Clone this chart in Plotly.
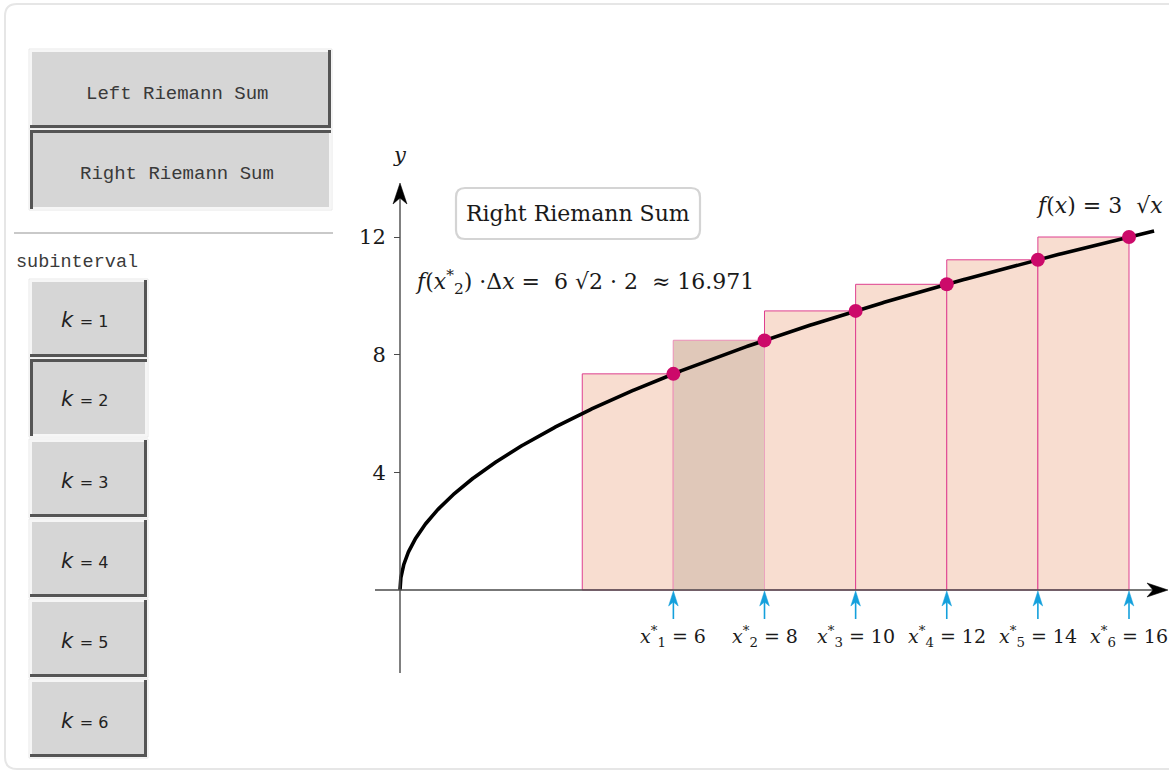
import numpy as np
import plotly.graph_objects as go

# ---------------- data ----------------
k_values = [1, 2, 3, 4, 5, 6]
x_left = [4, 6, 8, 10, 12, 14]
x_star = [6, 8, 10, 12, 14, 16]          # right endpoints (sample points)
delta_x = 2
f_star = [7.348, 8.485, 9.487, 10.392, 11.225, 12.0]   # f(x_k*) = 3*sqrt(x_k*)
selected_k = 2
y_tick_vals = [4, 8, 12]
y_tick_text = ["4", "8", "12"]
curve_x_end = 16.55
button_labels = ["Left Riemann Sum", "Right Riemann Sum"]
panel_label = "subinterval"
formula_text = "<i>f</i>(<i>x</i><sup>*</sup><sub>2</sub>) ·Δ<i>x</i> =  6 √2 · 2  ≈ 16.971"
func_text = "<i>f</i>(<i>x</i>) = 3  √<i>x</i>"
title_text = "Right Riemann Sum"

# curve of f(x) = 3 sqrt(x) (the function shown in the chart), denser near 0
curve_x = curve_x_end * np.linspace(0, 1, 600) ** 2
curve_y = 3 * np.sqrt(curve_x)

# ---------------- geometry ----------------
W, H = 1169, 772
X0_PX, X_SCALE = 400.0, 45.5625
Y0_PX, Y_SCALE = 590.0, 29.4167

def dxp(p):  # pixels -> data x units
    return p / X_SCALE

def dyp(p):  # pixels -> data y units
    return p / Y_SCALE

def X(px_):  # absolute pixel -> data x
    return (px_ - X0_PX) / X_SCALE

def Y(py_):  # absolute pixel -> data y
    return (Y0_PX - py_) / Y_SCALE

def PX(x):  # pixel -> paper
    return x / W

def PY(y):
    return 1 - y / H

SERIF = "DejaVu Serif"
MONO = "Liberation Mono"
SANS = "DejaVu Sans"
TXT = "#1a1a1a"

fig = go.Figure()

# rectangles (bars)
mids = [xl + delta_x / 2 for xl in x_left]
fig.add_trace(go.Bar(
    x=mids, y=f_star, width=[delta_x] * len(mids), base=0,
    marker=dict(color="#f8ddd0", line=dict(color="#de3f8f", width=1)),
    hoverinfo="skip", showlegend=False))
si = k_values.index(selected_k)
fig.add_trace(go.Bar(
    x=[mids[si]], y=[f_star[si]], width=[delta_x], base=0,
    marker=dict(color="#e0c8b9", line=dict(color="#eba3bf", width=1)),
    hoverinfo="skip", showlegend=False))

# curve
fig.add_trace(go.Scatter(x=curve_x, y=curve_y, mode="lines",
                         line=dict(color="black", width=3.6),
                         hoverinfo="skip", showlegend=False))
# sample points
fig.add_trace(go.Scatter(x=x_star, y=f_star, mode="markers",
                         marker=dict(color="#cc0a6a", size=14),
                         hoverinfo="skip", showlegend=False))

shapes = []
annotations = []

# ---- axes (lines + arrowheads) ----
AX_COL = "#4a4a4a"
x_tip = X(1168)
y_tip = Y(183)
shapes.append(dict(type="line", xref="x", yref="y", x0=X(375), y0=0, x1=x_tip - dxp(14), y1=0,
                   line=dict(color=AX_COL, width=1.4), layer="above"))
shapes.append(dict(type="line", xref="x", yref="y", x0=0, y0=Y(673), x1=0, y1=y_tip - dyp(14),
                   line=dict(color=AX_COL, width=1.4), layer="above"))
shapes.append(dict(type="path", xref="x", yref="y", layer="above",
                   path=f"M{x_tip},0 L{x_tip - dxp(21)},{dyp(7)} L{x_tip - dxp(15)},0 L{x_tip - dxp(21)},{-dyp(7)} Z",
                   fillcolor="black", line=dict(color="black", width=0.5)))
shapes.append(dict(type="path", xref="x", yref="y", layer="above",
                   path=f"M0,{y_tip} L{dxp(7)},{y_tip - dyp(21)} L0,{y_tip - dyp(15)} L{-dxp(7)},{y_tip - dyp(21)} Z",
                   fillcolor="black", line=dict(color="black", width=0.5)))

# ---- blue arrows under sample points ----
BLUE = "#14a0dc"
for xs in x_star:
    shapes.append(dict(type="line", xref="x", yref="y", x0=xs, y0=-dyp(11), x1=xs, y1=-dyp(29),
                       line=dict(color=BLUE, width=1.6), layer="above"))
    shapes.append(dict(type="path", xref="x", yref="y", layer="above",
                       path=f"M{xs},{-dyp(1)} L{xs + dxp(4.8)},{-dyp(16)} L{xs},{-dyp(12)} L{xs - dxp(4.8)},{-dyp(16)} Z",
                       fillcolor=BLUE, line=dict(color=BLUE, width=0.5)))

# ---- x* labels ----
for k, xs in zip(k_values, x_star):
    annotations.append(dict(x=xs, y=Y(636), xref="x", yref="y", showarrow=False,
                            text=f"<i>x</i><sup>*</sup><sub>{k}</sub> = {xs}",
                            font=dict(family=SERIF, size=19, color=TXT),
                            xanchor="center", yanchor="middle"))

# ---- y label ----
annotations.append(dict(x=0, y=Y(155), xref="x", yref="y", showarrow=False, text="<i>y</i>",
                        font=dict(family=SERIF, size=21, color=TXT)))

# ---- title box ----
bx0, by0, bx1, by1, r = 456, 188, 700, 239, 9
path = (f"M{X(bx0 + r)},{Y(by0)} L{X(bx1 - r)},{Y(by0)} Q{X(bx1)},{Y(by0)} {X(bx1)},{Y(by0 + r)} "
        f"L{X(bx1)},{Y(by1 - r)} Q{X(bx1)},{Y(by1)} {X(bx1 - r)},{Y(by1)} "
        f"L{X(bx0 + r)},{Y(by1)} Q{X(bx0)},{Y(by1)} {X(bx0)},{Y(by1 - r)} "
        f"L{X(bx0)},{Y(by0 + r)} Q{X(bx0)},{Y(by0)} {X(bx0 + r)},{Y(by0)} Z")
shapes.append(dict(type="path", xref="x", yref="y", path=path, fillcolor="white",
                   line=dict(color="#d4d4d4", width=2.2), layer="above"))
annotations.append(dict(x=X((bx0 + bx1) / 2), y=Y(213), xref="x", yref="y", showarrow=False,
                        text=title_text, font=dict(family=SERIF, size=22, color=TXT)))

# ---- formula ----
annotations.append(dict(x=X(413), y=Y(282), xref="x", yref="y", showarrow=False, xanchor="left",
                        text=formula_text, font=dict(family=SERIF, size=22, color=TXT)))
annotations.append(dict(x=X(1165), y=Y(205), xref="x", yref="y", showarrow=False, xanchor="right",
                        text=func_text, font=dict(family=SERIF, size=22, color=TXT)))

# ---------------- left control panel (paper/pixel coords) ----------------
def rounded_frame(x0, y0, x1, y1, rr):
    return (f"M{PX(x0 + rr)},{PY(y0)} L{PX(x1 - rr)},{PY(y0)} Q{PX(x1)},{PY(y0)} {PX(x1)},{PY(y0 + rr)} "
            f"L{PX(x1)},{PY(y1 - rr)} Q{PX(x1)},{PY(y1)} {PX(x1 - rr)},{PY(y1)} "
            f"L{PX(x0 + rr)},{PY(y1)} Q{PX(x0)},{PY(y1)} {PX(x0)},{PY(y1 - rr)} "
            f"L{PX(x0)},{PY(y0 + rr)} Q{PX(x0)},{PY(y0)} {PX(x0 + rr)},{PY(y0)} Z")

shapes.append(dict(type="path", xref="paper", yref="paper", path=rounded_frame(5, 4, 1185, 769, 12),
                   line=dict(color="#e6e6e6", width=2), layer="below"))

def pline(x0, y0, x1, y1, color, width):
    return dict(type="line", xref="paper", yref="paper", x0=PX(x0), y0=PY(y0), x1=PX(x1), y1=PY(y1),
                line=dict(color=color, width=width), layer="above")

def button(x0, y0, x1, y1, pressed):
    out = [dict(type="rect", xref="paper", yref="paper", x0=PX(x0 - 1), y0=PY(y0 - 1), x1=PX(x1 + 1), y1=PY(y1 + 1),
                fillcolor="white", line=dict(color="#e8e8e8", width=1), layer="above"),
           dict(type="rect", xref="paper", yref="paper", x0=PX(x0), y0=PY(y0), x1=PX(x1), y1=PY(y1),
                fillcolor="#d6d6d6", line=dict(width=0), layer="above")]
    dark, light = "#555555", "#f6f6f6"
    if pressed:
        out += [pline(x1 - 1, y0, x1 - 1, y1, light, 2), pline(x0, y1 - 1, x1, y1 - 1, light, 2),
                pline(x0 + 1.5, y0, x0 + 1.5, y1, dark, 3), pline(x0, y0 + 1.5, x1, y0 + 1.5, dark, 3)]
    else:
        out += [pline(x0 + 1, y0, x0 + 1, y1, light, 2), pline(x0, y0 + 1, x1, y0 + 1, light, 2),
                pline(x1 - 1.5, y0, x1 - 1.5, y1, dark, 3), pline(x0, y1 - 1.5, x1, y1 - 1.5, dark, 3)]
    return out

def ptext(x, y, text, font, xanchor="center"):
    return dict(x=PX(x), y=PY(y), xref="paper", yref="paper", showarrow=False, text=text,
                font=font, xanchor=xanchor, yanchor="middle")

btn_font = dict(family=MONO, size=19, color="#3a3a3a")
shapes += button(30, 50, 331, 128, False)
annotations.append(ptext(177, 94, button_labels[0], btn_font))
shapes += button(30, 130, 331, 209, True)
annotations.append(ptext(177, 174, button_labels[1], btn_font))

shapes.append(pline(14, 233, 333, 233, "#c9c9c9", 2))
annotations.append(ptext(14, 262, panel_label, dict(family=MONO, size=18.5, color="#3a3a3a"), xanchor="left"))

k_tops = [280, 359, 440, 520, 600, 680]
for k, top in zip(k_values, k_tops):
    bot = top + 77
    shapes += button(30, top, 147, bot, k == selected_k)
    annotations.append(ptext(85, (top + bot) / 2 + 2,
                             f"<i>k</i> <span style='font-size:16px'>= {k}</span>",
                             dict(family=SANS, size=21, color="#222222")))

# ---------------- layout ----------------
fig.update_layout(
    width=W, height=H, autosize=False,
    margin=dict(l=0, r=0, t=0, b=0, pad=0),
    paper_bgcolor="white", plot_bgcolor="rgba(0,0,0,0)",
    barmode="overlay", showlegend=False,
    xaxis=dict(range=[X(0), X(W)], domain=[0, 1], visible=False, fixedrange=True),
    yaxis=dict(range=[Y(H), Y(0)], domain=[0, 1], anchor="free", position=X0_PX / W,
               tickvals=y_tick_vals, ticktext=y_tick_text, ticks="outside", ticklen=6,
               tickwidth=1.2, tickcolor=AX_COL, showline=False, showgrid=False, zeroline=False,
               tickfont=dict(family=SERIF, size=21, color=TXT), ticklabelstandoff=4,
               fixedrange=True),
    shapes=shapes, annotations=annotations,
)

fig.write_html("out.html", config=dict(displayModeBar=False),
               post_script="document.body.style.margin='0';document.body.style.overflow='hidden';")
